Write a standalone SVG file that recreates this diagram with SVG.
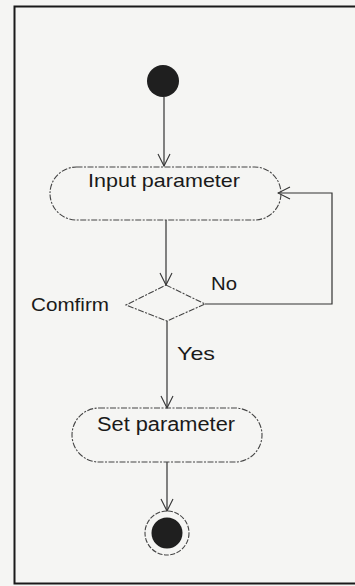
<svg xmlns="http://www.w3.org/2000/svg" width="355" height="586" viewBox="0 0 355 586">
<defs>
<style>
.lbl{font-family:"Liberation Sans",Arial,sans-serif;fill:#1a1a1a;}
.act{fill:none;stroke:#444;stroke-width:1.1;stroke-dasharray:6 1.5 2 1.5;}
.edge{fill:none;stroke:#333;stroke-width:1.2;}
</style>
<marker id="open" viewBox="0 0 14 14" refX="13" refY="7" markerWidth="14" markerHeight="14" markerUnits="userSpaceOnUse" orient="auto">
<path d="M1,1 L13,7 L1,13" fill="none" stroke="#333" stroke-width="1.1"/>
</marker>
</defs>
<rect x="0" y="0" width="355" height="586" fill="#f5f5f3"/>
<rect id="frame" x="14.5" y="6.5" width="360" height="577" fill="none" stroke="#1a1a1a" stroke-width="2"/>
<g id="connectors">
<line class="edge" x1="164" y1="97" x2="164" y2="166" marker-end="url(#open)"/>
<line class="edge" x1="166" y1="220" x2="166" y2="285" marker-end="url(#open)"/>
<polyline class="edge" points="205,304 332,304 332,193 278,193" marker-end="url(#open)"/>
<line class="edge" x1="167" y1="321" x2="167" y2="408" marker-end="url(#open)"/>
<line class="edge" x1="167" y1="462" x2="167" y2="511" marker-end="url(#open)"/>
</g>
<g id="start">
<circle cx="163" cy="81" r="16" fill="#1f1f1f"/>
</g>
<g id="input">
<rect class="act" x="50" y="167" width="231" height="53" rx="26.5" ry="26.5"/>
<text class="lbl" x="164" y="187" font-size="19" text-anchor="middle" textLength="152" lengthAdjust="spacingAndGlyphs">Input parameter</text>
</g>
<g id="decision">
<polygon class="act" points="166,285 205,304 167,321 126,305"/>
<text class="lbl" x="31" y="311" font-size="18" textLength="78" lengthAdjust="spacingAndGlyphs">Comfirm</text>
<text class="lbl" x="211" y="290" font-size="19" textLength="26" lengthAdjust="spacingAndGlyphs">No</text>
<text class="lbl" x="177" y="360" font-size="19" textLength="38" lengthAdjust="spacingAndGlyphs">Yes</text>
</g>
<g id="set">
<rect class="act" x="72" y="408" width="190" height="54" rx="27" ry="27"/>
<text class="lbl" x="166" y="431" font-size="20" text-anchor="middle" textLength="138" lengthAdjust="spacingAndGlyphs">Set parameter</text>
</g>
<g id="end">
<circle cx="167" cy="533" r="22" fill="none" stroke="#444" stroke-width="1.1" stroke-dasharray="5 1.5"/>
<circle cx="167" cy="533" r="15.5" fill="#1f1f1f"/>
</g>
</svg>
